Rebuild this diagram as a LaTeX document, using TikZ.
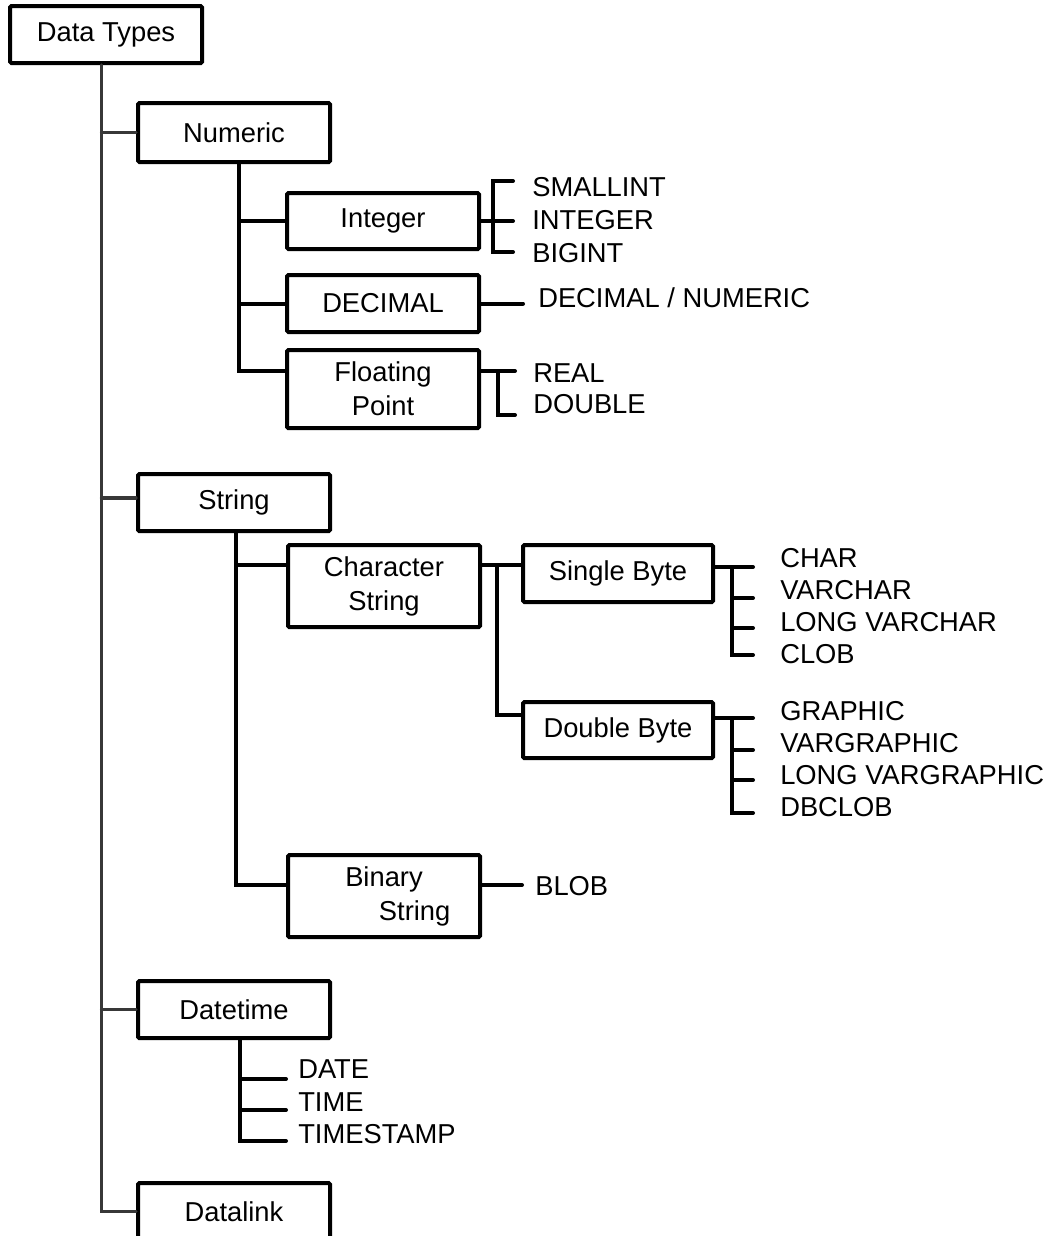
\documentclass[tikz,border=0pt]{standalone}
\usepackage{fontspec}
\setmainfont{Liberation Sans}
\begin{document}
\begin{tikzpicture}[x=0.75pt,y=-0.75pt,
  box/.style={draw=black, line width=3pt, rounded corners=1pt, minimum width=144pt,
    minimum height=42.75pt, inner sep=0pt, align=center,
    font=\fontsize{20.5}{25.5}\selectfont},
  leaf/.style={anchor=base west, inner sep=0pt, font=\fontsize{20.5}{25.5}\selectfont},
  conn/.style={draw=black, line width=3pt, line cap=round, line join=miter},
  mainline/.style={draw=black!78, line width=2.4pt, line cap=round}]
\useasboundingbox (0,0) rectangle (1059,1236);
\clip (0,0) rectangle (1059,1236);
\fill[white] (0,0) rectangle (1059,1236);

% boxes
\node[box] (dt) at (106,34.5) {Data Types};
\node[box, minimum height=44.25pt] (num) at (234,132.5) {Numeric};
\node[box, minimum height=42pt] (int) at (383,221) {Integer};
\node[box] (dec) at (383,303.5) {DECIMAL};
\node[box, minimum height=58.5pt] (flt) at (383,389) {Floating\\Point};
\node[box] (str) at (234,502.5) {String};
\node[box, minimum height=61.5pt] (chs) at (384,586) {Character\\String};
\node[box, minimum width=142.5pt] (sb) at (618,573.5) {Single Byte};
\node[box, minimum width=142.5pt, minimum height=42pt] (db) at (618,730) {Double Byte};
\node[box, minimum height=61.5pt] (bin) at (384,896) {Binary\\\hspace*{46pt}String};
\node[box] (dtm) at (234,1009.5) {Datetime};
\node[box] (dl) at (234,1211.5) {Datalink};

% leaves
\node[leaf] (smallint) at (532,196) {SMALLINT};
\node[leaf] (integer) at (532,229) {INTEGER};
\node[leaf] (bigint) at (532,262) {BIGINT};
\node[leaf] (decnum) at (538,307) {DECIMAL / NUMERIC};
\node[leaf] (real) at (533,382) {REAL};
\node[leaf] (double) at (533,413) {DOUBLE};
\node[leaf] (char) at (780,567) {CHAR};
\node[leaf] (varchar) at (780,599) {VARCHAR};
\node[leaf] (lvarchar) at (780,631) {LONG VARCHAR};
\node[leaf] (clob) at (780,663) {CLOB};
\node[leaf] (graphic) at (780,720) {GRAPHIC};
\node[leaf] (vargraphic) at (780,752) {VARGRAPHIC};
\node[leaf] (lvargraphic) at (780,784) {LONG VARGRAPHIC};
\node[leaf] (dbclob) at (780,816) {DBCLOB};
\node[leaf] (blob) at (535,895) {BLOB};
\node[leaf] (date) at (298,1078) {DATE};
\node[leaf] (time) at (298,1111) {TIME};
\node[leaf] (timestamp) at (298,1143) {TIMESTAMP};

% trunk x positions
\coordinate (mt) at (101.5,0);
\coordinate (nt) at (239,0);
\coordinate (st) at (236,0);
\coordinate (it) at (493,0);
\coordinate (ft) at (498,0);
\coordinate (ct) at (497,0);
\coordinate (sbt) at (732,0);
\coordinate (dbt) at (732,0);
\coordinate (dtt) at (240,0);

% main trunk
\draw[mainline] (dt.south -| mt) |- (dl.west);
\draw[mainline] (mt |- num.west) -- (num.west);
\draw[mainline] ([yshift=3.4pt]mt |- str.west) -- ([yshift=3.4pt]str.west);
\draw[mainline] (mt |- dtm.west) -- (dtm.west);

% numeric
\draw[conn] (num.south -| nt) |- ([yshift=13.5pt]flt.west);
\draw[conn] (nt |- int.west) -- (int.west);
\draw[conn] (nt |- dec.west) -- (dec.west);

% integer leaves
\coordinate (s1) at (513,181);
\coordinate (s3) at (513,252);
\draw[conn] (int.east) -- (int.east -| s1);
\draw[conn] (s1) -- (it |- s1) -- (it |- s3) -- (s3);

% decimal leaf
\coordinate (d1) at (523,302);
\draw[conn] (dec.east) -- (dec.east -| d1);

% floating leaves
\coordinate (r1) at (515,371);
\coordinate (r2) at (515,415);
\draw[conn] ([yshift=13.5pt]flt.east) -- (r1);
\draw[conn] (ft |- r1) |- (r2);

% string
\draw[conn] (str.south -| st) |- ([yshift=8.25pt]bin.west);
\draw[conn] ([yshift=15.75pt]st |- chs.west) -- ([yshift=15.75pt]chs.west);
\coordinate (c1) at ([yshift=15.75pt]chs.east);
\draw[conn] (c1) -- (c1 -| sb.west);
\draw[conn] (c1 -| ct) |- ([yshift=11.25pt]db.west);

% single byte leaves
\coordinate (cchar) at (753,567);
\coordinate (cvarchar) at (753,598);
\coordinate (clvc) at (753,628);
\coordinate (cclob) at (753,655);
\draw[conn] (sb.east |- cchar) -- (cchar);
\draw[conn] (sbt |- cchar) |- (cclob);
\draw[conn] (sbt |- cvarchar) -- (cvarchar);
\draw[conn] (sbt |- clvc) -- (clvc);

% double byte leaves
\coordinate (cgr) at (753,718);
\coordinate (cvgr) at (753,750);
\coordinate (clvg) at (753,780);
\coordinate (cdbc) at (753,813);
\draw[conn] (db.east |- cgr) -- (cgr);
\draw[conn] (dbt |- cgr) |- (cdbc);
\draw[conn] (dbt |- cvgr) -- (cvgr);
\draw[conn] (dbt |- clvg) -- (clvg);

% blob
\coordinate (cblob) at (522,885);
\draw[conn] ([yshift=8.25pt]bin.east) -- (cblob);

% datetime leaves
\coordinate (cdate) at (286,1079);
\coordinate (ctime) at (286,1110);
\coordinate (cts) at (286,1141);
\draw[conn] (dtm.south -| dtt) |- (cts);
\draw[conn] (dtt |- cdate) -- (cdate);
\draw[conn] (dtt |- ctime) -- (ctime);
\end{tikzpicture}
\end{document}
